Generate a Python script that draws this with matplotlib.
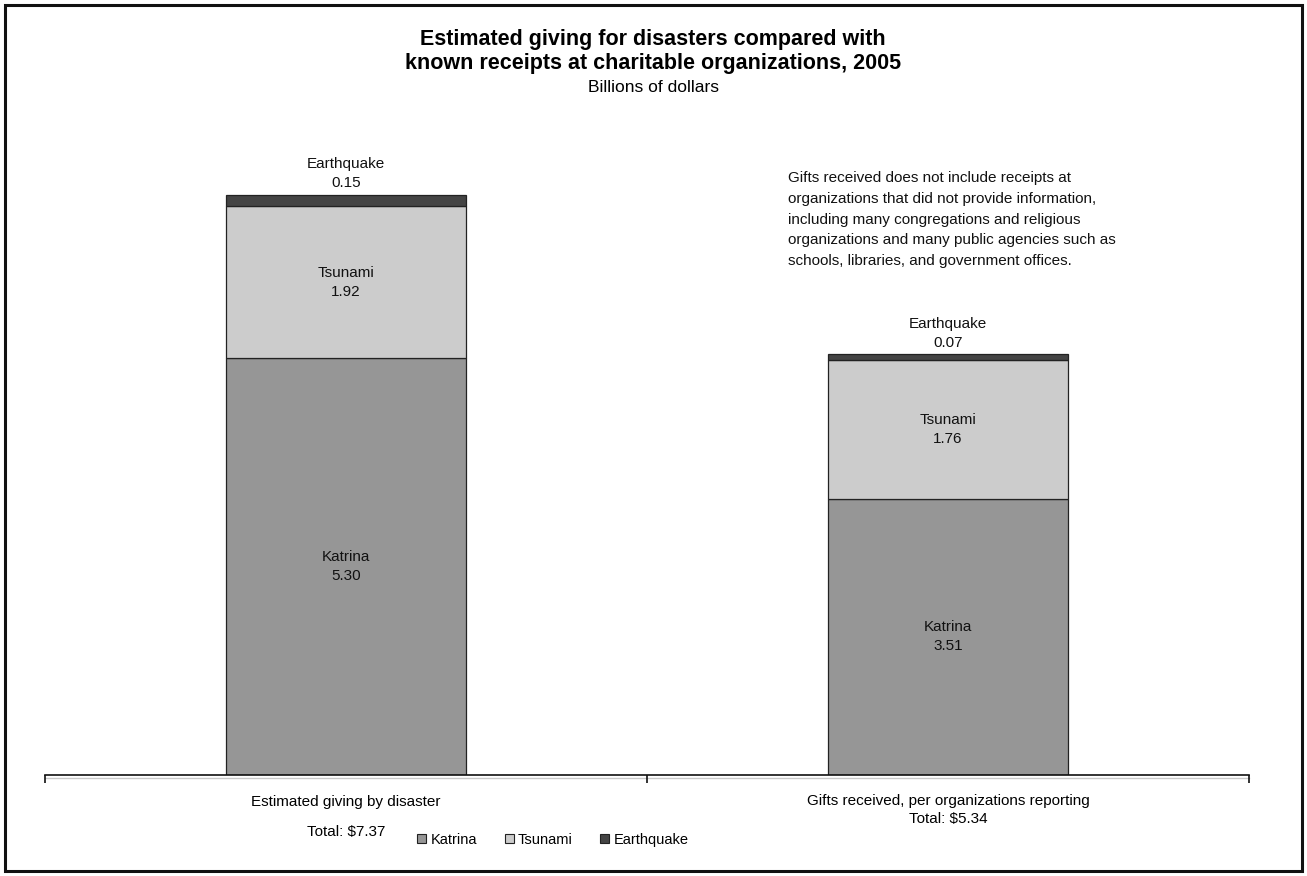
import matplotlib
matplotlib.use("Agg")
import matplotlib.pyplot as plt
import matplotlib.patches as mpatches
import numpy as np

plt.rcParams["font.family"] = ["Liberation Sans", "DejaVu Sans"]

# data
categories = ["Estimated giving by disaster", "Gifts received, per organizations reporting"]
totals = ["Total: $7.37", "Total: $5.34"]
series = ["Katrina", "Tsunami", "Earthquake"]
katrina = [5.30, 3.51]
tsunami = [1.92, 1.76]
earthquake = [0.15, 0.07]

COLORS = {
    "Katrina": "#969696",
    "Tsunami": "#CCCCCC",
    "Earthquake": "#444444",
}

NOTE = ("Gifts received does not include receipts at\n"
        "organizations that did not provide information,\n"
        "including many congregations and religious\n"
        "organizations and many public agencies such as\n"
        "schools, libraries, and government offices.")

W, H = 1307, 876
fig = plt.figure(figsize=(W / 100, H / 100), dpi=100)
fig.patch.set_facecolor("white")

# axes placed in pixel terms: baseline at y=775, x from 45 to 1249
ax = fig.add_axes([45 / W, (H - 775) / H, 1204 / W, 630 / H])
ax.set_facecolor("white")

x = np.arange(len(categories))
values = [katrina, tsunami, earthquake]
bottom = np.zeros(len(categories))
bars = {}
for name, vals in zip(series, values):
    bars[name] = ax.bar(x, vals, width=0.4, bottom=bottom, color=COLORS[name],
                        edgecolor="#222222", linewidth=0.9, label=name, zorder=2)
    bottom = bottom + np.array(vals)

# in-bar labels for Katrina and Tsunami
for name, vals in zip(series[:2], values[:2]):
    for rect, v in zip(bars[name], vals):
        cx = rect.get_x() + rect.get_width() / 2
        cy = rect.get_y() + rect.get_height() / 2
        ax.text(cx, cy, f"{name}\n{v:.2f}", ha="center", va="center",
                fontsize=11, linespacing=1.45, color="#111111")

# earthquake labels above the bars
for rect, v in zip(bars["Earthquake"], earthquake):
    cx = rect.get_x() + rect.get_width() / 2
    top = rect.get_y() + rect.get_height()
    ax.annotate(f"Earthquake\n{v:.2f}", (cx, top), xytext=(0, 3),
                textcoords="offset points", ha="center", va="bottom",
                fontsize=11, linespacing=1.45, color="#111111")

ax.set_xlim(-0.5, 1.5)
ax.set_ylim(0, 8)
for side in ["top", "right", "left"]:
    ax.spines[side].set_visible(False)
ax.spines["bottom"].set_linewidth(1.2)
ax.spines["bottom"].set_color("#111111")
ax.set_yticks([])
ax.set_xticks([-0.5, 0.5, 1.5])
ax.set_xticklabels([])
ax.tick_params(axis="x", direction="out", length=6, width=1.2, color="#111111")
# light shadow under the axis line
ax.axhline(-0.035, color="#C8C8C8", linewidth=1.0, clip_on=False, zorder=1)

# category labels
ax.text(0, -0.34, categories[0], ha="center", va="center", fontsize=11, clip_on=False)
ax.text(0, -0.73, totals[0], ha="center", va="center", fontsize=11, clip_on=False)
ax.text(1.0, -0.33, categories[1], ha="center", va="center", fontsize=11, clip_on=False)
ax.text(1.0, -0.56, totals[1], ha="center", va="center", fontsize=11, clip_on=False)

# title block
fig.text(653 / W, 1 - 39 / H, "Estimated giving for disasters compared with",
         ha="center", va="center", fontsize=15.5, fontweight="bold")
fig.text(653 / W, 1 - 63 / H, "known receipts at charitable organizations, 2005",
         ha="center", va="center", fontsize=15.5, fontweight="bold")
fig.text(653 / W, 1 - 87 / H, "Billions of dollars",
         ha="center", va="center", fontsize=12.5)

# note
fig.text(788 / W, 1 - 171 / H, NOTE, ha="left", va="top", fontsize=11,
         linespacing=1.62, color="#111111")

# legend
handles = [mpatches.Patch(facecolor=COLORS[s], edgecolor="#222222", linewidth=0.8, label=s)
           for s in series]
fig.legend(handles=handles, loc="center", bbox_to_anchor=(553 / W, 1 - 840 / H),
           ncol=3, frameon=False, fontsize=10.5, handlelength=0.6, handleheight=0.6,
           handletextpad=0.3, columnspacing=1.9)

# outer border
fig.patches.append(mpatches.Rectangle((5 / W, 5 / H), 1297 / W, 866 / H,
                                      transform=fig.transFigure, fill=False,
                                      edgecolor="#111111", linewidth=2.2))

fig.savefig("out.png", dpi=100, facecolor="white")
